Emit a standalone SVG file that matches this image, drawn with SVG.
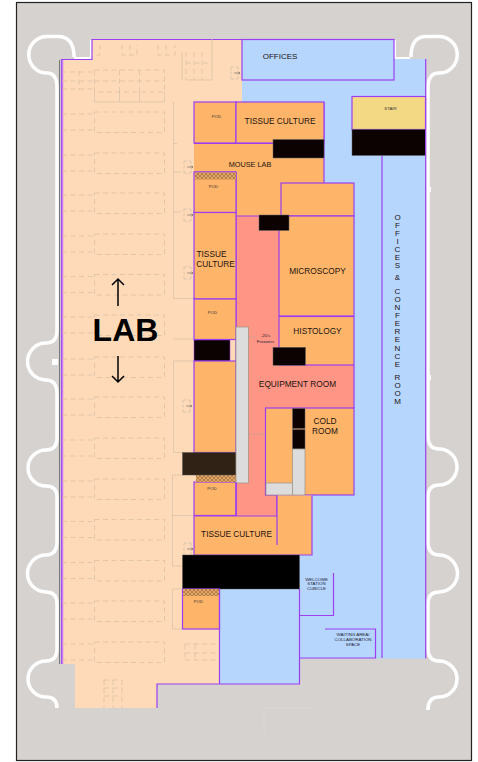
<svg xmlns="http://www.w3.org/2000/svg" xmlns:xlink="http://www.w3.org/1999/xlink" width="478" height="762" viewBox="0 0 478 762">
<style>
text{font-family:"Liberation Sans",Arial,sans-serif;fill:#1c1410;text-anchor:middle}
.r{stroke:#9b3ff0;stroke-width:1.2}
.o{fill:#feb469}.s{fill:#fe9585}.b{fill:#b6d6fe}
.k{fill:#0d0202;stroke:#666;stroke-width:.5}
.g{fill:#dcdcdc;stroke:#9a9080;stroke-width:.7}
.l{fill:none;stroke:#9b3ff0;stroke-width:1.2}
.w{fill:none;stroke:#fff;stroke-width:3.500}
.d{fill:none;stroke:#d6bda2;stroke-width:.7;stroke-dasharray:5 3.500}
.f{fill:none;stroke:#d6c0a8;stroke-width:.7}
.t{font-size:8.300px}.p{font-size:4.300px;fill:#333}.m{font-size:4.400px;fill:#223}
</style>
<defs>
<pattern id="hatch" width="4" height="4" patternUnits="userSpaceOnUse">
<rect width="4" height="4" fill="#e5a662"/><path d="M0 0L4 4M4 0L0 4" stroke="#7c5a3a" stroke-width=".5"/>
</pattern>
<g id="door" fill="none" stroke="#c8b8a6" stroke-width=".6"><path d="M-4-6H3M-4 6H3M-4-6V6M3-6V6" stroke-dasharray="3 1.500"/><path d="M-1 0H5M3.500-1.200L5 0L3.500 1.200" stroke="#6d6358"/></g>
<g id="bench"><rect class="d" x="94.500" y="0" width="70" height="20.500"/><path class="d" d="M62 2H94M62 18H94"/></g>
</defs>
<rect x="16.500" y="2.500" width="455" height="758" fill="#d5d2d0" stroke="#222" stroke-width="1.200"/>
<g id="outline">
<path class="w" d="M74 57Q74 36.500 58 36.500H47A18.200 18.200 0 0 0 47 73Q57 73 57 88V330Q57 343 46 343A18.500 18.500 0 0 0 46 380Q57 380 57 394V438Q57 450 46 450A18 18 0 0 0 46 486Q57 486 57 497V541Q57 555 46 555A18.500 18.500 0 0 0 46 592Q57 592 57 604V648Q57 661 46 661A18 18 0 0 0 46 697Q57 697 57 708"/>
<path class="w" d="M411 57Q411 36.500 426 36.500H439A18.200 18.200 0 0 1 439 73Q428 73 428 88V436Q428 449 439 449A18 18 0 0 1 439 485Q428 485 428 497V541Q428 555 439 555A18.500 18.500 0 0 1 439 592Q428 592 428 604V648Q428 661 439 661A18 18 0 0 1 439 697Q428 697 428 710"/>
<rect x="52" y="359" width="6" height="6" fill="#fff"/><rect x="428" y="187" width="3" height="5" fill="#fff"/><rect x="428" y="375" width="3" height="5" fill="#fff"/>
<path d="M59.500 60V664" stroke="#777" stroke-width="1" fill="none"/>
<path d="M74 58H91V40M395 40V58H410" stroke="#fff" stroke-width="2" fill="none"/>
</g>
<g id="lab">
<path d="M61 59H92V39H242V684H157V708H75V664H61Z" fill="#fedab8"/>
<path d="M242 80H394V59H425.500V658.500H299.500V684H219.500V589H242Z" class="b"/>
<path d="M61.500 664V59.500H92V39.500H242" class="l"/>
<path d="M62.500 60V664" stroke="#c77df2" stroke-width="1.500" fill="none"/>
<path class="l" d="M157 708V684H220"/>
</g>
<g id="furniture">
<use xlink:href="#bench" y="112"/><use xlink:href="#bench" y="153"/><use xlink:href="#bench" y="193"/><use xlink:href="#bench" y="234"/><use xlink:href="#bench" y="274.500"/><use xlink:href="#bench" y="315"/><use xlink:href="#bench" y="357"/><use xlink:href="#bench" y="397"/><use xlink:href="#bench" y="438"/><use xlink:href="#bench" y="479"/><use xlink:href="#bench" y="519.500"/><use xlink:href="#bench" y="560.500"/><use xlink:href="#bench" y="601"/><use xlink:href="#bench" y="642"/>
<path class="d" d="M62 72H94M62 81H94M62 89H94M94.500 70H164.500V92H94.500ZM119.500 70V92M139.500 70V92M94.500 81H164.500M79 71V90"/>
<path class="f" d="M94.500 92V102H164.500V92M119.500 92V102M139.500 92V102"/>
<path class="d" d="M100 45V55H92M122 45V55H137V45M130 45V55M158 45V55H175V45M166 45V55"/>
<path class="f" d="M182 52V80M212 39V80H186"/>
<path class="d" d="M186 52V80M194 52V80M202 52V80M186 63H212"/>
<path class="f" d="M173.500 102V298.500H194M173.500 143.500H177M173.500 172H181M173.500 212H181M173.500 339H194M194 361H173.500V452.500H182.500M182 475H172.500V566H182M172.500 515.500H194M182 589H172.500V629H182"/>
<path class="d" d="M185 644H220M185 653H220M185 660H220M185 644V660M195 644V660"/>
<path class="d" d="M104 680H122M104 688H122M104 696H122M104 680V708M113 680V708M122 680V708"/>
<use xlink:href="#door" x="235" y="73"/><use xlink:href="#door" x="188" y="167"/><use xlink:href="#door" x="188" y="215"/><use xlink:href="#door" x="188" y="273"/><use xlink:href="#door" x="187" y="406"/><use xlink:href="#door" x="188" y="549"/>
<path d="M264 708H312M264 708V735" stroke="#dedbd9" stroke-width=".7" fill="none"/>
</g>
<g id="offices-top"><rect class="b r" x="242" y="39.500" width="152" height="40.500"/><text x="280" y="59" style="font-size:8px">OFFICES</text></g>
<g id="stair"><rect x="352" y="96.500" width="73.500" height="33" fill="#f4d985" class="r"/><rect class="k" x="352" y="129.500" width="73.500" height="26"/><text class="p" x="390.500" y="109.500">STAIR</text></g>
<g id="offices-conference">
<path class="l" d="M382 156V658"/>
<path class="l" d="M425.700 59V658.500"/>
<text x="397.500" style="font-size:8px"><tspan x="397.500" y="220">O</tspan><tspan x="397.500" y="228">F</tspan><tspan x="397.500" y="236">F</tspan><tspan x="397.500" y="244">I</tspan><tspan x="397.500" y="252">C</tspan><tspan x="397.500" y="260">E</tspan><tspan x="397.500" y="268">S</tspan><tspan x="397.500" y="280">&amp;</tspan><tspan x="397.500" y="294">C</tspan><tspan x="397.500" y="302">O</tspan><tspan x="397.500" y="310">N</tspan><tspan x="397.500" y="318">F</tspan><tspan x="397.500" y="326">E</tspan><tspan x="397.500" y="334">R</tspan><tspan x="397.500" y="342">E</tspan><tspan x="397.500" y="351">N</tspan><tspan x="397.500" y="359">C</tspan><tspan x="397.500" y="367">E</tspan><tspan x="397.500" y="380">R</tspan><tspan x="397.500" y="388">O</tspan><tspan x="397.500" y="396">O</tspan><tspan x="397.500" y="404">M</tspan></text>
</g>
<g id="equipment-room"><rect class="s" x="236" y="216" width="118" height="192"/><path class="s" d="M236 408H265V495H277V516H236Z"/><path class="l" d="M236 216V516M354 365V408M277 495V516"/><text class="t" x="297.500" y="387">EQUIPMENT ROOM</text>
<text class="m" x="265.500" y="337">-20's</text><text class="m" x="265.500" y="343">Freezers</text><path class="f" d="M248.500 337H256M248.500 434H265" style="stroke:#c9a090"/></g>
<g id="mouse-lab"><path class="o" d="M194 143H324V183H281V216H236V172H194Z"/><path class="l" d="M194 143.500H273M324 102V183M236 172V216M194 172H236M236 216H281"/><text x="250" y="167" style="font-size:7.300px">MOUSE LAB</text></g>
<g id="pod-1"><rect class="o r" x="194" y="102" width="42" height="41"/><text class="p" x="216.500" y="118">POD</text></g>
<g id="tissue-culture-top"><rect class="o r" x="236" y="102" width="88" height="41"/><rect class="k" x="273" y="139.500" width="51" height="18.500"/><text class="t" x="280" y="124">TISSUE CULTURE</text></g>
<g id="pod-2"><rect class="o r" x="194" y="172" width="42" height="40.500"/><rect x="195" y="172.500" width="41" height="7" fill="url(#hatch)"/><text class="p" x="213.500" y="188">POD</text></g>
<g id="tissue-culture-left"><rect class="o r" x="194" y="212.500" width="42" height="86.500"/><text class="t" x="215.500" y="257" style="text-anchor:start" dx="-19">TISSUE</text><text class="t" x="215.500" y="267">CULTURE</text></g>
<g id="pod-3"><rect class="o r" x="194" y="299" width="42" height="40.500"/><text class="p" x="212.500" y="314">POD</text></g>
<g id="closet-left"><rect class="k" x="194" y="340" width="36" height="21" style="stroke:#9b3ff0"/><rect class="o r" x="194" y="361" width="42" height="91.500"/></g>
<g id="pod-4"><rect class="o r" x="194" y="482" width="42" height="33.500"/><rect x="196" y="475" width="40" height="7" fill="url(#hatch)"/><text class="p" x="212" y="490">POD</text><rect x="182.500" y="452.500" width="53.500" height="22.500" fill="#302214" stroke="#555" stroke-width=".5"/></g>
<g id="upper-room"><rect class="o r" x="281" y="183" width="73" height="33"/></g>
<g id="microscopy"><rect class="o r" x="279" y="216" width="75" height="100"/><rect class="k" x="259" y="215" width="30" height="15.500"/><text class="t" x="317.500" y="274">MICROSCOPY</text></g>
<g id="histology"><rect class="o r" x="279" y="316.500" width="75" height="48.500"/><rect class="k" x="273" y="347.300" width="32.500" height="18"/><text class="t" x="317.500" y="333.500">HISTOLOGY</text></g>
<rect id="freezer-bar" class="g" x="236" y="327" width="12.500" height="156"/>
<g id="cold-room"><rect class="o r" x="265.500" y="408" width="88.500" height="87"/>
<rect class="k" x="292.500" y="408.500" width="12.500" height="20"/><rect class="k" x="292.500" y="429.500" width="12.500" height="19.500"/><rect class="g" x="292.500" y="449" width="12.500" height="46"/><rect class="g" x="266" y="483" width="26.500" height="12"/>
<text class="t" x="325" y="424">COLD</text><text class="t" x="325" y="434">ROOM</text></g>
<g id="tissue-culture-bottom"><path class="o" d="M277 495.500H312V555H194V516H277Z"/><path class="l" d="M194 516H277V495.500M277 516V545M312 495.500V555H194V516M236 515.500V482"/><text class="t" x="236.500" y="536.500">TISSUE CULTURE</text></g>
<g id="lobby-block"><rect x="182.500" y="555" width="117" height="34" fill="#000" stroke="#555" stroke-width=".4"/></g>
<g id="pod-5"><rect class="o r" x="182.500" y="589" width="37" height="40"/><rect x="183" y="589" width="36.500" height="7" fill="url(#hatch)"/><text class="p" x="198.500" y="603">POD</text></g>
<g id="lobby"><path class="l" d="M219.500 589V684M299.500 589V684H220"/><path class="l" d="M299.500 658H375.500V629H325"/></g>
<g id="welcome"><path class="l" d="M299.500 615.500H333.500V573"/><text class="m" x="316.500" y="580.500">WELCOME</text><text class="m" x="316.500" y="585">STATION</text><text class="m" x="316.500" y="589.700">CUBICLE</text></g>
<g id="waiting"><text class="m" x="353" y="636">WAITING AREA/</text><text class="m" x="353" y="640.700">COLLABORATION</text><text class="m" x="353" y="645.700">SPACE</text></g>
<g id="lab-label"><text x="125.500" y="341" style="font-size:32px;font-weight:bold;fill:#000">LAB</text>
<path d="M118 306V279M112 285L118 279L124 285M118 356V382M112 376L118 382L124 376" fill="none" stroke="#000" stroke-width="1.500"/></g>
</svg>
